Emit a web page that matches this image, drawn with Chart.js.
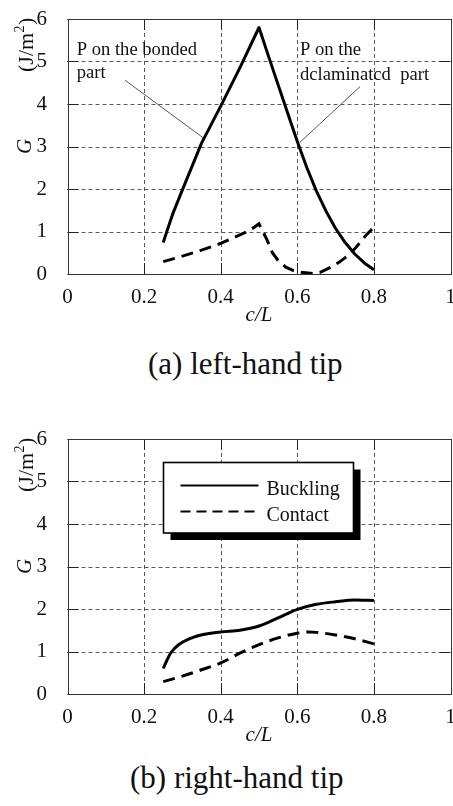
<!DOCTYPE html>
<html>
<head>
<meta charset="utf-8">
<script src="https://cdn.jsdelivr.net/npm/chart.js@4"></script>
<style>
  html, body { margin: 0; padding: 0; background: #fff; }
  body { width: 453px; height: 806px; position: relative; overflow: hidden;
         font-family: "Liberation Serif", "Times New Roman", serif; color: #111; }
  .panel { position: absolute; left: 0; width: 453px; height: 340px; }
  .caption { position: absolute; font-size: 31px; line-height: 31px; white-space: nowrap; }
</style>
</head>
<body>
<div class="panel" style="top:0"><canvas id="chartA" width="453" height="340"></canvas></div>
<div class="caption" style="top:348px;left:148px">(a) left-hand tip</div>
<div class="panel" style="top:420px"><canvas id="chartB" width="453" height="340"></canvas></div>
<div class="caption" style="top:762px;left:130px">(b) right-hand tip</div>

<script>
// ---- axis ticks ----
const xTicks = [0, 0.2, 0.4, 0.6, 0.8, 1];
const yTicks = [0, 1, 2, 3, 4, 5, 6];
const xTitle = 'c/L';
const yTitle = 'G';
const yUnit = ['(J/m', '2', ')'];
const seriesLabels = ['Buckling', 'Contact'];

// ---- (a) left-hand tip ----
const leftBucklingX = [0.25, 0.26, 0.275, 0.3, 0.35, 0.4, 0.45, 0.5, 0.525, 0.55, 0.575, 0.6, 0.625, 0.65, 0.675, 0.7, 0.725, 0.75, 0.775, 0.8];
const leftBucklingG = [0.74, 1.02, 1.42, 1.98, 3.08, 3.95, 4.85, 5.8, 5.12, 4.45, 3.78, 3.12, 2.5, 1.95, 1.48, 1.07, 0.74, 0.47, 0.26, 0.1];

const leftContactX = [0.25, 0.3, 0.35, 0.4, 0.45, 0.475, 0.5, 0.52, 0.535, 0.55, 0.57, 0.59, 0.61, 0.64, 0.66, 0.685, 0.71, 0.74, 0.76, 0.78, 0.8];
const leftContactG = [0.29, 0.42, 0.56, 0.72, 0.92, 1.02, 1.18, 0.82, 0.5, 0.32, 0.16, 0.08, 0.04, 0.01, 0.04, 0.15, 0.28, 0.49, 0.7, 0.92, 1.1];

// ---- (b) right-hand tip ----
const rightBucklingX = [0.25, 0.26, 0.27, 0.29, 0.33, 0.4, 0.45, 0.5, 0.55, 0.6, 0.65, 0.7, 0.75, 0.8];
const rightBucklingG = [0.6, 0.8, 0.97, 1.16, 1.34, 1.46, 1.5, 1.6, 1.79, 1.99, 2.11, 2.17, 2.21, 2.2];

const rightContactX = [0.25, 0.3, 0.35, 0.4, 0.45, 0.5, 0.55, 0.6, 0.63, 0.65, 0.7, 0.75, 0.8];
const rightContactG = [0.29, 0.42, 0.57, 0.73, 0.96, 1.16, 1.32, 1.43, 1.46, 1.45, 1.39, 1.3, 1.18];

// ---- shared styling ----
const SERIF = '"Liberation Serif", "Times New Roman", serif';
const INK = '#111';
const CONTACT_DASH = [12, 7];

function toPoints(xs, ys) {
  return xs.map((x, i) => ({ x: x, y: ys[i] }));
}

// dashed grid, frame and inward tick marks on all four sides
const framePlugin = {
  id: 'frameTicks',
  beforeDatasetsDraw(chart) {
    const { ctx, chartArea: a, scales } = chart;
    const len = 11;
    const xs = xTicks.map(v => Math.round(scales.x.getPixelForValue(v)) + 0.5);
    const ys = yTicks.map(v => Math.round(scales.y.getPixelForValue(v)) + 0.5);
    ctx.save();
    // grid
    ctx.strokeStyle = '#5a5a5a';
    ctx.lineWidth = 1;
    ctx.setLineDash([4, 3]);
    ctx.beginPath();
    xs.forEach(px => { ctx.moveTo(px, a.top); ctx.lineTo(px, a.bottom); });
    ys.forEach(py => { ctx.moveTo(a.left, py); ctx.lineTo(a.right, py); });
    ctx.stroke();
    // tick marks
    ctx.setLineDash([]);
    ctx.strokeStyle = '#222';
    ctx.beginPath();
    xs.forEach(px => {
      ctx.moveTo(px, a.bottom); ctx.lineTo(px, a.bottom - len);
      ctx.moveTo(px, a.top); ctx.lineTo(px, a.top + len);
    });
    ys.forEach(py => {
      ctx.moveTo(a.left, py); ctx.lineTo(a.left + len, py);
      ctx.moveTo(a.right, py); ctx.lineTo(a.right - len, py);
    });
    ctx.stroke();
    // frame
    ctx.strokeStyle = '#333';
    ctx.strokeRect(xs[0], ys[ys.length - 1], xs[xs.length - 1] - xs[0], ys[0] - ys[ys.length - 1]);
    ctx.restore();
  }
};

// rotated symbol and unit beside the value axis
const yTitlePlugin = {
  id: 'yTitle',
  afterDraw(chart) {
    const { ctx, chartArea: a } = chart;
    ctx.save();
    ctx.fillStyle = INK;
    ctx.textBaseline = 'alphabetic';
    // symbol
    ctx.save();
    ctx.translate(31, (a.top + a.bottom) / 2);
    ctx.rotate(-Math.PI / 2);
    ctx.font = 'italic 21px ' + SERIF;
    ctx.textAlign = 'center';
    ctx.fillText(yTitle, 0, 0);
    ctx.restore();
    // unit with superscript
    ctx.translate(33, a.top + 53);
    ctx.rotate(-Math.PI / 2);
    ctx.textAlign = 'left';
    ctx.font = '22px ' + SERIF;
    let x = 0;
    ctx.fillText(yUnit[0], x, 0);
    x += ctx.measureText(yUnit[0]).width;
    ctx.font = '14px ' + SERIF;
    ctx.fillText(yUnit[1], x + 0.5, -9);
    x += ctx.measureText(yUnit[1]).width + 1;
    ctx.font = '22px ' + SERIF;
    ctx.fillText(yUnit[2], x, 0);
    ctx.restore();
  }
};

// callout labels with thin leader lines, placed in data coordinates
const calloutPlugin = {
  id: 'callouts',
  afterDatasetsDraw(chart, args, opts) {
    if (!opts.items) return;
    const { ctx, scales } = chart;
    const X = v => scales.x.getPixelForValue(v);
    const Y = v => scales.y.getPixelForValue(v);
    ctx.save();
    ctx.fillStyle = INK;
    ctx.font = '18.6px ' + SERIF;
    ctx.textAlign = 'left';
    ctx.textBaseline = 'alphabetic';
    opts.items.forEach(it => {
      it.lines.forEach((t, i) => ctx.fillText(t, X(it.at[0]), Y(it.at[1]) + i * it.lineGap));
      ctx.strokeStyle = '#444';
      ctx.lineWidth = 0.9;
      ctx.beginPath();
      ctx.moveTo(X(it.from[0]), Y(it.from[1]));
      ctx.lineTo(X(it.to[0]), Y(it.to[1]));
      ctx.stroke();
    });
    ctx.restore();
  }
};

// boxed legend with a solid drop shadow
const boxLegendPlugin = {
  id: 'boxLegend',
  afterDraw(chart, args, opts) {
    if (!opts.box) return;
    const { ctx } = chart;
    const b = opts.box;
    ctx.save();
    ctx.fillStyle = '#000';
    ctx.fillRect(b.left + b.shadow, b.top + b.shadow, b.width, b.height);
    ctx.fillStyle = '#fff';
    ctx.fillRect(b.left, b.top, b.width, b.height);
    ctx.strokeStyle = '#000';
    ctx.lineWidth = 1.6;
    ctx.strokeRect(b.left, b.top, b.width, b.height);
    ctx.font = '20px ' + SERIF;
    ctx.textAlign = 'left';
    ctx.textBaseline = 'alphabetic';
    chart.data.datasets.forEach((ds, i) => {
      const y = b.top + b.rowTop + i * b.rowGap;
      ctx.strokeStyle = '#000';
      ctx.lineWidth = 2.2;
      ctx.setLineDash(ds.borderDash ? [10, 6] : []);
      ctx.beginPath();
      ctx.moveTo(b.left + b.lineStart, y);
      ctx.lineTo(b.left + b.lineEnd, y);
      ctx.stroke();
      ctx.setLineDash([]);
      ctx.fillStyle = INK;
      ctx.fillText(ds.label, b.left + b.textStart, y + 9);
    });
    ctx.restore();
  }
};

function makeChart(id, bucklingX, bucklingG, contactX, contactG, smooth, pluginOpts) {
  const lineOpts = smooth ? { cubicInterpolationMode: 'monotone' } : { tension: 0 };
  return new Chart(document.getElementById(id), {
    type: 'line',
    data: {
      datasets: [
        Object.assign({
          label: seriesLabels[0],
          data: toPoints(bucklingX, bucklingG),
          borderColor: '#000', borderWidth: 3, pointRadius: 0,
          borderJoinStyle: 'round', fill: false
        }, lineOpts),
        Object.assign({
          label: seriesLabels[1],
          data: toPoints(contactX, contactG),
          borderColor: '#000', borderWidth: 3, pointRadius: 0,
          borderDash: CONTACT_DASH, fill: false
        }, lineOpts)
      ]
    },
    options: {
      responsive: false,
      animation: false,
      events: [],
      layout: { padding: { top: 19, right: 2.5, left: 0, bottom: 0 } },
      scales: {
        x: {
          type: 'linear', min: 0, max: 1,
          afterBuildTicks: s => { s.ticks = xTicks.map(v => ({ value: v })); },
          afterFit: s => { s.height = 66; s.paddingLeft = 0; s.paddingRight = 0; },
          grid: { display: false },
          border: { display: false },
          ticks: { padding: 3, color: INK, autoSkip: false, maxRotation: 0,
                   font: { family: SERIF, size: 21 }, callback: v => String(v) },
          title: { display: true, text: xTitle, color: INK,
                   font: { family: SERIF, size: 21, style: 'italic' },
                   padding: { top: 0, bottom: 12 } }
        },
        y: {
          type: 'linear', min: 0, max: 6,
          afterBuildTicks: s => { s.ticks = yTicks.map(v => ({ value: v })); },
          afterFit: s => { s.width = 67.5; s.paddingTop = 0; s.paddingBottom = 0; },
          grid: { display: false },
          border: { display: false },
          ticks: { padding: 12.5, color: INK, font: { family: SERIF, size: 21 },
                   callback: v => String(v) }
        }
      },
      plugins: Object.assign({
        legend: { display: false },
        tooltip: { enabled: false }
      }, pluginOpts)
    },
    plugins: [framePlugin, yTitlePlugin, calloutPlugin, boxLegendPlugin]
  });
}

makeChart('chartA', leftBucklingX, leftBucklingG, leftContactX, leftContactG, false, {
  callouts: {
    items: [
      { lines: ['P on the bonded', 'part'], at: [0.024, 5.15], lineGap: 23,
        from: [0.150, 4.56], to: [0.355, 3.2] },
      { lines: ['P on the', 'dclaminatcd  part'], at: [0.607, 5.15], lineGap: 25,
        from: [0.764, 4.41], to: [0.607, 3.1] }
    ]
  }
});

makeChart('chartB', rightBucklingX, rightBucklingG, rightContactX, rightContactG, true, {
  boxLegend: {
    box: { left: 163.5, top: 42.5, width: 190, height: 70.5, shadow: 7,
           rowTop: 23, rowGap: 26, lineStart: 17, lineEnd: 95, textStart: 103 }
  }
});
</script>
</body>
</html>
